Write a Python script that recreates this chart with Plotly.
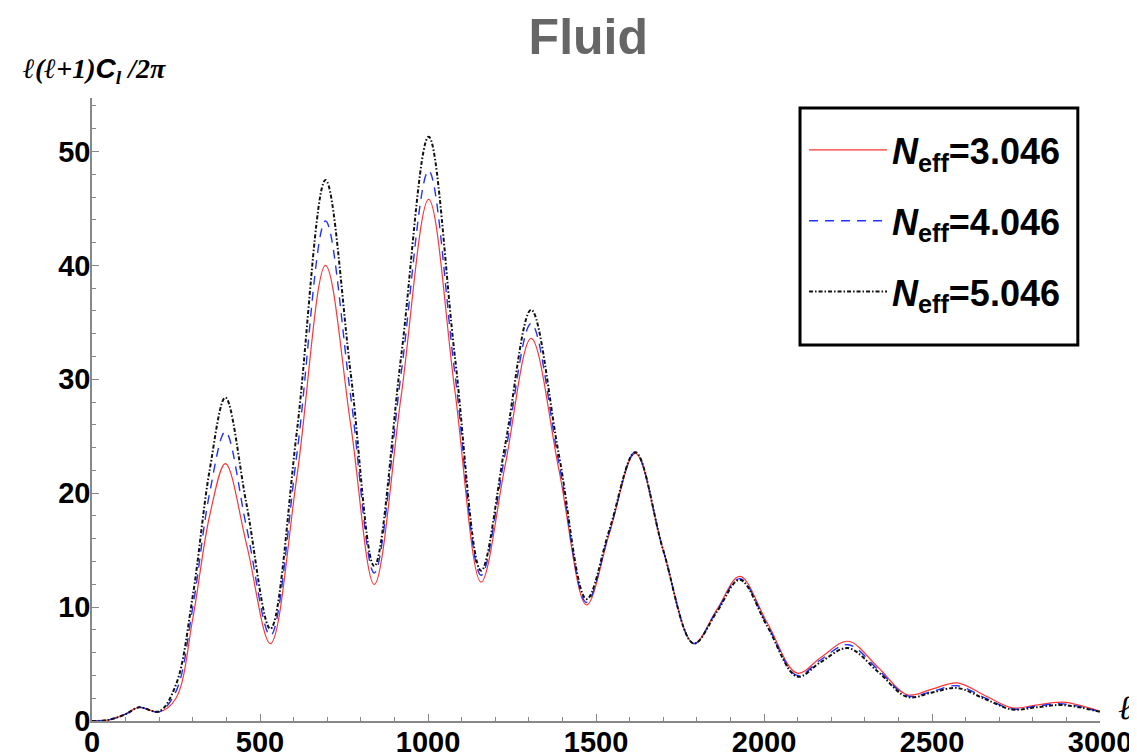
import plotly.graph_objects as go

# multipole moments (shared sampling grid)
ell = [0, 50, 100, 140, 200, 250, 300, 350, 397, 460, 531, 610, 695, 770, 840,
       920, 1002, 1080, 1158, 1230, 1307, 1390, 1472, 1540, 1617, 1700, 1791,
       1860, 1928, 2010, 2099, 2170, 2250, 2340, 2427, 2500, 2575, 2660, 2740,
       2810, 2890, 3000]

# ell(ell+1)C_l/2pi for each N_eff
neff_3046 = [0, 0.1, 0.6, 1.2, 0.8, 2.0, 9.0, 18.0, 22.6, 15.5, 6.8, 21.5, 40.0,
             26.0, 12.0, 28.5, 45.8, 29.0, 12.2, 22.5, 33.6, 22.0, 10.2, 16.5,
             23.5, 15.0, 6.8, 9.8, 12.7, 8.6, 4.2, 5.6, 7.0, 4.7, 2.3, 2.8, 3.35,
             2.2, 1.15, 1.4, 1.65, 0.85]
neff_4046 = [0, 0.1, 0.6, 1.2, 0.8, 2.6, 10.0, 20.0, 25.4, 17.0, 7.5, 23.5, 43.9,
             28.5, 13.0, 30.5, 48.3, 30.5, 12.8, 23.5, 34.9, 22.6, 10.4, 16.6,
             23.6, 15.0, 6.8, 9.7, 12.5, 8.4, 4.0, 5.4, 6.7, 4.5, 2.2, 2.6, 3.1,
             2.0, 1.05, 1.3, 1.5, 0.8]
neff_5046 = [0, 0.1, 0.6, 1.2, 0.85, 3.2, 11.0, 22.0, 28.4, 19.0, 8.1, 25.5, 47.5,
             30.5, 13.6, 32.0, 51.3, 32.0, 13.2, 24.3, 36.1, 23.3, 10.7, 16.8,
             23.6, 15.0, 6.8, 9.6, 12.4, 8.3, 3.9, 5.2, 6.4, 4.3, 2.1, 2.5, 2.9,
             1.9, 1.0, 1.2, 1.4, 0.8]

labels = ["<b><i>N</i><sub>eff</sub>=3.046</b>",
          "<b><i>N</i><sub>eff</sub>=4.046</b>",
          "<b><i>N</i><sub>eff</sub>=5.046</b>"]
x_ticks = [0, 500, 1000, 1500, 2000, 2500, 3000]
y_ticks = [0, 10, 20, 30, 40, 50]

FONT = "Liberation Sans, Arial, sans-serif"
SERIF = "Liberation Serif, serif"

fig = go.Figure()
fig.add_trace(go.Scatter(x=ell, y=neff_3046, name=labels[0], mode="lines",
                         line=dict(color="#ff3535", width=1.2, shape="spline", smoothing=1.0),
                         legendgroup="a"))
fig.add_trace(go.Scatter(x=ell, y=neff_4046, name=labels[1], mode="lines",
                         line=dict(color="#2233ff", width=1.4, dash="9px,7px", shape="spline", smoothing=1.0),
                         legendgroup="b"))
fig.add_trace(go.Scatter(x=ell, y=neff_5046, name=labels[2], mode="lines",
                         line=dict(color="#111111", width=2, dash="4px,2px,1.5px,2px", shape="spline", smoothing=1.0),
                         legendgroup="c"))

fig.update_layout(
    width=1129, height=748,
    margin=dict(l=84, r=37, t=90, b=35),
    paper_bgcolor="white", plot_bgcolor="white",
    font=dict(family=FONT, color="black"),
    title=dict(text="<b>Fluid</b>", x=0.514, xanchor="center", y=0.962, yanchor="middle",
               font=dict(size=50, color="#666666", family=FONT)),
    showlegend=True,
    legend=dict(x=0.7064, xanchor="left", y=0.9647, yanchor="top",
                bgcolor="rgba(255,255,255,0)", borderwidth=0,
                font=dict(size=36, family=FONT, color="black"),
                itemwidth=78, tracegroupgap=21, traceorder="grouped"),
    shapes=[dict(type="rect", xref="paper", yref="paper", x0=0.7024, x1=0.978,
                 y0=0.6035, y1=0.984, line=dict(color="black", width=3),
                 fillcolor="white", layer="below")],
)

fig.update_xaxes(range=[0, 3000], tickvals=x_ticks, ticktext=[f"<b>{v}</b>" for v in x_ticks],
                 automargin=False, ticklabelstandoff=-6,
                 showgrid=False, zeroline=False, showline=True, linecolor="#888888", linewidth=1.5,
                 ticks="inside", ticklen=7, tickcolor="#888888", tickwidth=1,
                 tickfont=dict(size=29, family=FONT, color="black"),
                 minor=dict(dtick=100, ticks="inside", ticklen=4, tickcolor="#888888", showgrid=False))
fig.update_yaxes(range=[0, 54.7], tickvals=y_ticks, ticktext=[f"<b>{v}</b>" for v in y_ticks],
                 automargin=False, ticklabelstandoff=-6,
                 showgrid=False, zeroline=False, showline=True, linecolor="#888888", linewidth=1.5,
                 ticks="inside", ticklen=7, tickcolor="#888888", tickwidth=1,
                 tickfont=dict(size=29, family=FONT, color="black"),
                 minor=dict(dtick=2, ticks="inside", ticklen=4, tickcolor="#888888", showgrid=False))

fig.add_annotation(
    text=("<i><b>ℓ(ℓ+1)</b></i><i><b><span style='font-family:Liberation Sans'>C</span></b>"
          "<sub><b>l</b></sub><b> /2π</b></i>"),
    xref="paper", yref="paper", x=-0.0714, y=1.013, xanchor="left", yanchor="bottom",
    showarrow=False, font=dict(size=28, family=SERIF, color="black"))
fig.add_annotation(text="<i>ℓ</i>", xref="paper", yref="paper", x=1.0, y=0.0,
                   xanchor="left", yanchor="middle", xshift=16, yshift=14, showarrow=False,
                   font=dict(size=34, family=SERIF, color="black"))

fig.write_html("out.html")
